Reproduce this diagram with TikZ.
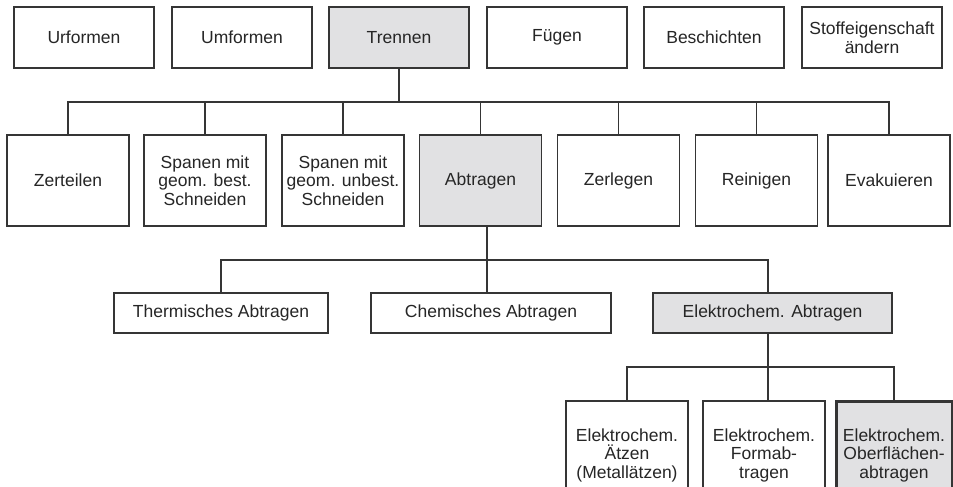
\documentclass[tikz,border=0pt]{standalone}
\usepackage{fontspec}
\setmainfont{Liberation Sans}
\definecolor{boxgray}{HTML}{E1E1E3}
\definecolor{linegray}{HTML}{353535}
\definecolor{textgray}{HTML}{262626}

\begin{document}
\begin{tikzpicture}[x=1pt,y=-1pt]
\tikzstyle{block} = [rectangle, draw=linegray, line width=1.4pt, fill=white,
text=textgray, align=center, inner sep=1pt,
font=\fontsize{17.5}{18.5}\selectfont]
\tikzstyle{toprow} = [block, minimum width=140pt, minimum height=61pt]
\tikzstyle{midrow} = [block, minimum width=122pt, minimum height=91pt]
\tikzstyle{lowrow} = [block, minimum height=40pt]
\tikzstyle{leaf} = [block, minimum width=122pt, minimum height=108pt]
\tikzstyle{marked} = [fill=boxgray]
\tikzstyle{line} = [draw=linegray, line width=1.4pt]

\useasboundingbox (0,0) rectangle (953,487);
\clip (0,0) rectangle (953,487);

% row 1
\node [toprow] (urformen) at (84,37.5) {Urformen};
\node [toprow] (umformen) at (242,37.5) {Umformen};
\node [toprow, marked] (trennen) at (399,37.5) {Trennen};
\node [toprow] (fuegen) at (557,37.5) {Fügen};
\node [toprow] (beschichten) at (714,37.5) {Beschichten};
\node [toprow] (stoff) at (872,37.5) {Stoffeigenschaft\\ändern};
% row 2
\node [midrow] (zerteilen) at (68,180.5) {Zerteilen};
\node [midrow] (spanbest) at (205,180.5) {Spanen mit\\geom. best.\\Schneiden};
\node [midrow] (spanunbest) at (343,180.5) {Spanen mit\\geom. unbest.\\Schneiden};
\node [midrow, marked] (abtragen) at (480.5,180.5) {Abtragen};
\node [midrow] (zerlegen) at (618.5,180.5) {Zerlegen};
\node [midrow] (reinigen) at (756.5,180.5) {Reinigen};
\node [midrow] (evakuieren) at (889,180.5) {Evakuieren};
% row 3
\node [lowrow, minimum width=214pt] (thermisch) at (221,313) {Thermisches Abtragen};
\node [lowrow, minimum width=240pt] (chemisch) at (491,313) {Chemisches Abtragen};
\node [lowrow, marked, minimum width=239pt] (elektro) at (772.5,313) {Elektrochem. Abtragen};
% row 4
\node [leaf] (aetzen) at (627,455) {Elektrochem.\\Ätzen\\(Metallätzen)};
\node [leaf] (formab) at (764,455) {Elektrochem.\\Formab-\\tragen};
\node [leaf, marked, line width=3pt, minimum width=116pt] (oberflaeche) at (894,455)
  {Elektrochem.\\Oberflächen-\\abtragen};

\coordinate (bus1) at (399,102);
\coordinate (bus2) at (487,260);
\coordinate (bus3) at (768,367);

\tikzstyle{every path}=[line]
\path (trennen.south) -- (trennen.south |- bus1);
\path (zerteilen.north) |- (bus1) -| (evakuieren.north);
\foreach \n in {spanbest,spanunbest,abtragen,zerlegen,reinigen}
  \path (\n.north) -- (\n.north |- bus1);
\path (abtragen.south -| bus2) -- (bus2 |- chemisch.north);
\path (thermisch.north) |- (bus2) -| (elektro.north -| bus3);
\path (elektro.south -| bus3) -- (bus3 |- formab.north);
\path (aetzen.north) |- (bus3) -| (oberflaeche.north);

\end{tikzpicture}
\end{document}
